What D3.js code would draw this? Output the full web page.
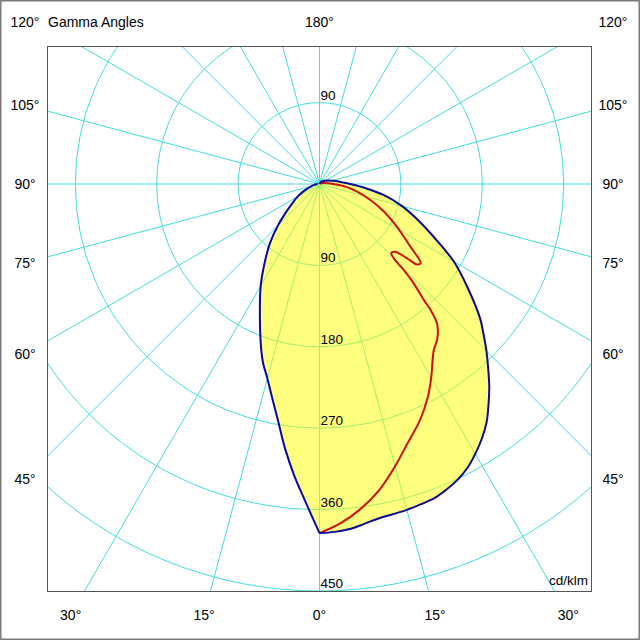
<!DOCTYPE html>
<html>
<head>
<meta charset="utf-8">
<script src="https://cdn.jsdelivr.net/npm/d3@7/dist/d3.min.js"></script>
<style>
  html, body { margin: 0; padding: 0; background: #fff; }
  svg { display: block; font-family: "Liberation Sans", Arial, sans-serif; }
</style>
</head>
<body>
<svg id="chart" width="640" height="640"></svg>
<script>
// ---------- data (cd/klm vs gamma angle) ----------
const gammaC0 = [0,2.5,5,7.5,10,12.5,15,17.5,20,22.5,25,27.5,30,32.5,35,37.5,40,42.5,45,47.5,50,55,60,65,70,75,80,85,90,95,100,110,120,135,150,165,180];
const intensityC0 = [386,385,383,379,375.5,374,373,371.5,370,366,361,354,344.5,334,322,307,292,276,261,246,232,200,171.5,140,115.5,94.5,73,50.5,34,24,18.5,11,7,4,2,1,0];

const gammaC180 = [0,2.5,5,7.5,10,12.5,15,17.5,20,25,30,35,40,45,50,55,60,65,70,75,80,85,90];
const intensityC180 = [386,352,323,294,265,242,222.5,207.5,189.5,156,130,105.5,85,65,48,36,28,20,13,9,6,4,2];

const gammaC90 = [0,3.5,7,11,15,18.5,23,27,30,34.5,37,39,40.2,41.4,42,43.5,44.4,45,46.2,48,49.7,50.5,52,53.4,55.4,58,61,64,67,72.5,78.5,85,93,105,130];
const intensityC90 = [386,376,363,345,323,304,284,264,247,223,216,208,201,186,172,151,133,116,110,112,127,140,142,135,122,110,98,87,77,59,42.5,27,12,4,1];

const ringValues = [90,180,270,360,450];
const spokeAngles = [0,15,30,45,60,75,90,105,120,135,150,165,180,195,210,225,240,255,270,285,300,315,330,345];
const leftLabelAngles = [120,105,90,75,60,45];
const bottomLabelAngles = [-30,-15,0,15,30];
const topLabelAngles = [180];

// ---------- layout ----------
const W = 640, H = 640;
const box = {x0: 47.5, y0: 46.5, x1: 591.5, y1: 591.5};
const cx = 319.5, cy = 184;
const rScale = d3.scaleLinear().domain([0, 450]).range([0, 407]);
const gridColor = "#45dcdc";

const svg = d3.select("#chart");
svg.append("rect").attr("x", 0.75).attr("y", 0.75).attr("width", W - 1.5).attr("height", H - 1.5)
  .attr("fill", "#fff").attr("stroke", "#7a7a7a").attr("stroke-width", 1.5);

svg.append("clipPath").attr("id", "plotclip").append("rect")
  .attr("x", box.x0).attr("y", box.y0).attr("width", box.x1 - box.x0).attr("height", box.y1 - box.y0);

const plot = svg.append("g").attr("clip-path", "url(#plotclip)");
const g = plot.append("g").attr("transform", `translate(${cx},${cy})`);

// grid: rings
g.selectAll("circle.ring").data(ringValues).join("circle")
  .attr("class", "ring").attr("r", d => rScale(d))
  .attr("fill", "none").attr("stroke", gridColor).attr("stroke-width", 1);

// grid: spokes (gamma measured from downward vertical)
const far = 800;
g.selectAll("line.spoke").data(spokeAngles).join("line")
  .attr("class", "spoke")
  .attr("x1", 0).attr("y1", 0)
  .attr("x2", d => far * Math.sin(d * Math.PI / 180))
  .attr("y2", d => far * Math.cos(d * Math.PI / 180))
  .attr("stroke", gridColor).attr("stroke-width", 1);

// curves
const toRad = Math.PI / 180;
const right = (ga, iv) => ga.map((gg, i) => ({a: Math.PI - gg * toRad, r: rScale(iv[i])}));
const left = (ga, iv) => ga.map((gg, i) => ({a: Math.PI + gg * toRad, r: rScale(iv[i])}));
const radial = d3.lineRadial().angle(d => d.a).radius(d => d.r).curve(d3.curveCatmullRom.alpha(0.5));

const c180pts = left(gammaC180, intensityC180).reverse();
const c0pts = right(gammaC0, intensityC0);
const c90pts = right(gammaC90, intensityC90);

const pLeft = radial(c180pts);
const pRight = radial(c0pts);
const fillPath = pLeft + "L" + pRight.slice(1) + "Z";

g.append("path").attr("d", fillPath)
  .attr("fill", "#ffff00").attr("fill-opacity", 0.5).attr("stroke", "none");

g.append("path").attr("d", radial(c90pts))
  .attr("fill", "none").attr("stroke", "#cc1100").attr("stroke-width", 2);

g.append("path").attr("d", pLeft).attr("fill", "none").attr("stroke", "#0a0a9a").attr("stroke-width", 2);
g.append("path").attr("d", pRight).attr("fill", "none").attr("stroke", "#0a0a9a").attr("stroke-width", 2);

// ring labels
const ringLabelData = [];
ringValues.forEach(v => {
  ringLabelData.push({v, y: cy + rScale(v) - 3});
  const yt = cy - rScale(v) - 3;
  if (yt - 12 > box.y0) ringLabelData.push({v, y: yt});
});
svg.selectAll("text.ring").data(ringLabelData).join("text")
  .attr("class", "ring").attr("x", cx + 1).attr("y", d => d.y)
  .attr("font-size", 13.5).attr("fill", "#000").text(d => d.v);

// plot box
svg.append("rect").attr("x", box.x0).attr("y", box.y0)
  .attr("width", box.x1 - box.x0).attr("height", box.y1 - box.y0)
  .attr("fill", "none").attr("stroke", "#555").attr("stroke-width", 1);

// angle labels
const lab = {xl: 25, xr: 613, yt: 22, yb: 615};
const angleLabels = [];
leftLabelAngles.forEach(a => {
  const t = a * toRad;
  let y = cy + (cx - lab.xl) * Math.cos(t) / Math.sin(t);
  y = Math.max(lab.yt, Math.min(lab.yb, y));
  angleLabels.push({x: lab.xl, y, t: a + "°"});
  angleLabels.push({x: lab.xr, y, t: a + "°"});
});
bottomLabelAngles.forEach(a => {
  const x = cx + (lab.yb - cy) * Math.tan(a * toRad);
  angleLabels.push({x, y: lab.yb, t: Math.abs(a) + "°"});
});
topLabelAngles.forEach(a => angleLabels.push({x: cx, y: lab.yt, t: a + "°"}));

svg.selectAll("text.ang").data(angleLabels).join("text")
  .attr("class", "ang").attr("x", d => d.x).attr("y", d => d.y)
  .attr("text-anchor", "middle").attr("dominant-baseline", "central")
  .attr("font-size", 14).attr("fill", "#000").text(d => d.t);

svg.append("text").attr("x", 48).attr("y", 22).attr("dominant-baseline", "central")
  .attr("font-size", 14).attr("fill", "#000").text("Gamma Angles");

svg.append("text").attr("x", 588).attr("y", 585).attr("text-anchor", "end")
  .attr("font-size", 13.5).attr("fill", "#000").text("cd/klm");
</script>
</body>
</html>
